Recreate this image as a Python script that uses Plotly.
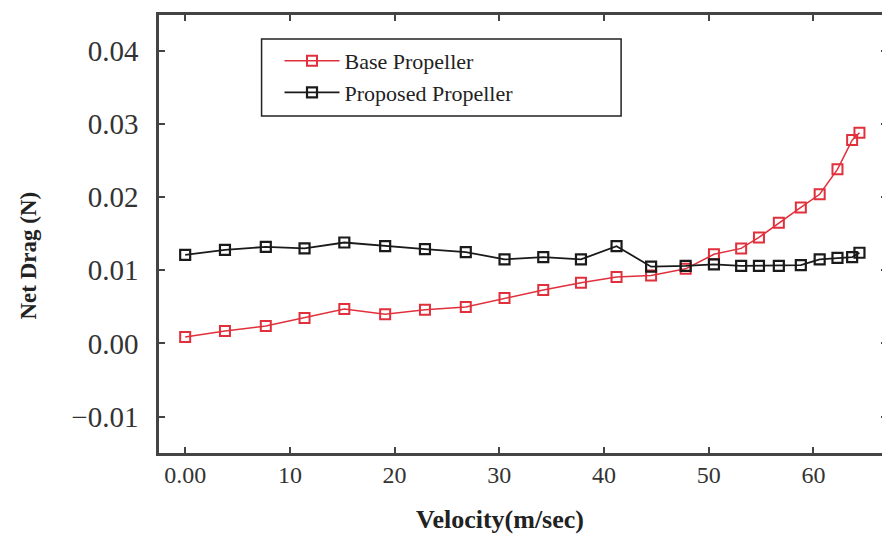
import plotly.graph_objects as go

velocity = [0.0, 3.8, 7.7, 11.4, 15.2, 19.1, 22.9, 26.8, 30.5, 34.2, 37.8, 41.2,
            44.5, 47.8, 50.5, 53.1, 54.8, 56.7, 58.8, 60.6, 62.3, 63.7, 64.4]
base_drag = [0.0009, 0.0017, 0.0024, 0.0035, 0.0047, 0.0040, 0.0046, 0.0050,
             0.0062, 0.0073, 0.0083, 0.0091, 0.0093, 0.0102, 0.0122, 0.0130,
             0.0145, 0.0165, 0.0186, 0.0204, 0.0238, 0.0278, 0.0288]
proposed_drag = [0.0121, 0.0128, 0.0132, 0.0130, 0.0138, 0.0133, 0.0129, 0.0125,
                 0.0115, 0.0118, 0.0115, 0.0133, 0.0105, 0.0106, 0.0108, 0.0106,
                 0.0106, 0.0106, 0.0107, 0.0115, 0.0117, 0.0118, 0.0124]

x_tickvals = [0, 10, 20, 30, 40, 50, 60]
x_ticktext = ["0.00", "10", "20", "30", "40", "50", "60"]
y_tickvals = [-0.01, 0.0, 0.01, 0.02, 0.03, 0.04]
y_ticktext = ["\u22120.01", "0.00", "0.01", "0.02", "0.03", "0.04"]

SERIF = "Liberation Serif, Times New Roman, serif"

# page body has an 8px margin; figure is sized/offset to compensate
PW, PH = 731, 438  # plot area size in px

fig = go.Figure()
fig.add_trace(go.Scatter(
    x=velocity, y=base_drag, mode="lines+markers", name="Base Propeller",
    line=dict(color="#e0303c", width=1.5),
    marker=dict(symbol="square-open", size=10, color="#e0303c", line=dict(width=2)),
))
fig.add_trace(go.Scatter(
    x=velocity, y=proposed_drag, mode="lines+markers", name="Proposed Propeller",
    line=dict(color="#1a1a1a", width=1.8),
    marker=dict(symbol="square-open", size=10, color="#1a1a1a", line=dict(width=2.2)),
))

def px_x(sx):
    return (sx - 159) / PW

def px_y(sy):
    return (453 - sy) / PH

fig.update_layout(
    width=882, height=528,
    margin=dict(l=151, r=0, t=7, b=83),
    paper_bgcolor="white", plot_bgcolor="white",
    font=dict(family=SERIF, color="#333"),
    showlegend=True,
    legend=dict(
        x=px_x(280), y=px_y(40), xanchor="left", yanchor="top",
        bgcolor="rgba(0,0,0,0)", borderwidth=0,
        font=dict(family=SERIF, size=22, color="#222"),
        itemwidth=55, tracegroupgap=0,
    ),
    shapes=[dict(
        type="rect", xref="paper", yref="paper",
        x0=px_x(262), x1=px_x(623), y0=px_y(116), y1=px_y(39),
        line=dict(color="#222", width=1.5),
    )],
    annotations=[
        dict(text="<b>Net Drag (N)</b>", xref="paper", yref="paper",
             x=px_x(27), y=px_y(256), textangle=-90,
             showarrow=False, font=dict(family=SERIF, size=23, color="#222"),
             xanchor="center", yanchor="middle"),
        dict(text="<b>Velocity(m/sec)</b>", xref="paper", yref="paper",
             x=px_x(501), y=px_y(519),
             showarrow=False, font=dict(family=SERIF, size=26, color="#222"),
             xanchor="center", yanchor="middle"),
    ],
)

fig.update_xaxes(
    range=[-2.5, 67.03], tickvals=x_tickvals, ticktext=x_ticktext,
    showgrid=False, zeroline=False,
    showline=True, linecolor="#444", linewidth=2.5, mirror="ticks",
    ticks="inside", ticklen=6, tickwidth=1.5, tickcolor="#444",
    tickfont=dict(family=SERIF, size=24, color="#333"),
    ticklabelstandoff=-2,
)
fig.update_yaxes(
    range=[-0.01497, 0.0449], tickvals=y_tickvals, ticktext=y_ticktext,
    showgrid=False, zeroline=False,
    showline=True, linecolor="#444", linewidth=2.5, mirror="ticks",
    ticks="inside", ticklen=6, tickwidth=1.5, tickcolor="#444",
    tickfont=dict(family=SERIF, size=29, color="#333"),
    ticklabelstandoff=12,
)

fig.write_html("out.html")
